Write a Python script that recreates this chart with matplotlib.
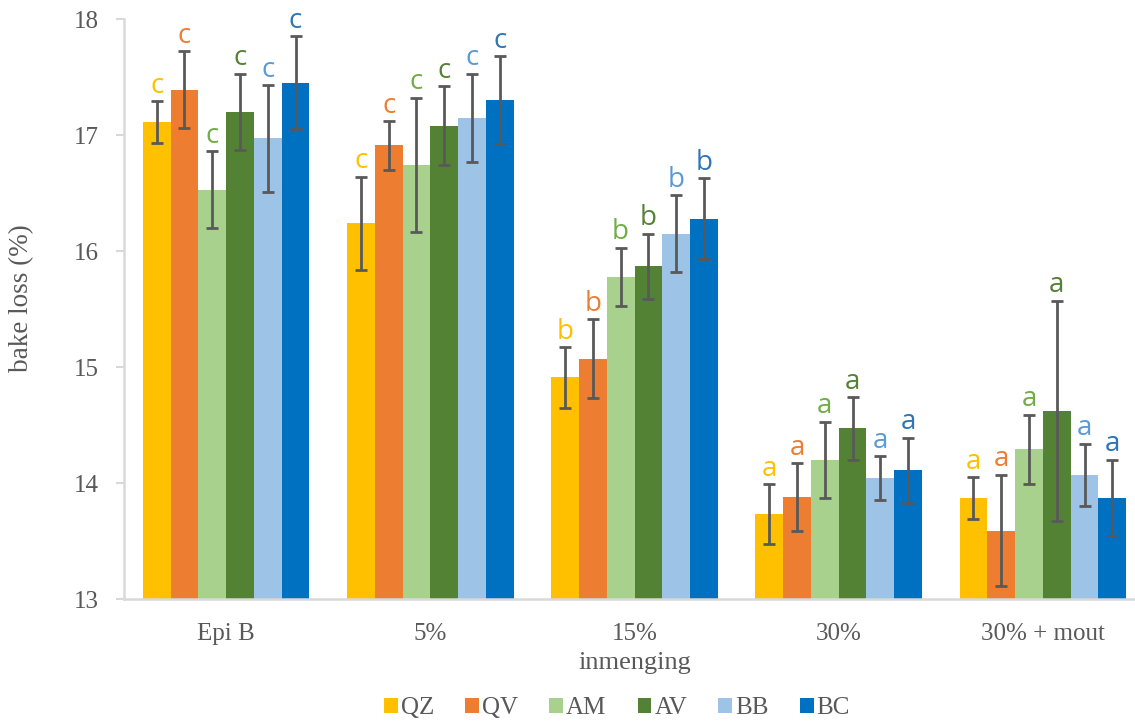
import numpy as np
import matplotlib
matplotlib.use("Agg")
import matplotlib.pyplot as plt

# Mixing levels on the x axis and the six flour series
categories = ["Epi B", "5%", "15%", "30%", "30% + mout"]
series = ["QZ", "QV", "AM", "AV", "BB", "BC"]

# Mean bake loss (%) per series, one value per mixing level
qz = [17.11, 16.24, 14.91, 13.73, 13.87]
qv = [17.39, 16.91, 15.07, 13.88, 13.59]
am = [16.53, 16.74, 15.78, 14.20, 14.29]
av = [17.20, 17.08, 15.87, 14.47, 14.62]
bb = [16.97, 17.15, 16.15, 14.04, 14.07]
bc = [17.45, 17.30, 16.28, 14.11, 13.87]

# Standard deviations
qz_sd = [0.18, 0.40, 0.26, 0.26, 0.18]
qv_sd = [0.33, 0.21, 0.34, 0.29, 0.48]
am_sd = [0.33, 0.58, 0.25, 0.33, 0.30]
av_sd = [0.33, 0.34, 0.28, 0.27, 0.95]
bb_sd = [0.46, 0.38, 0.33, 0.19, 0.27]
bc_sd = [0.40, 0.38, 0.35, 0.28, 0.33]

# Significance letters per mixing level
letters = ["c", "c", "b", "a", "a"]

means = [qz, qv, am, av, bb, bc]
sds = [qz_sd, qv_sd, am_sd, av_sd, bb_sd, bc_sd]

bar_colors = ["#FFC000", "#ED7D31", "#A9D18E", "#548235", "#9DC3E6", "#0070C0"]
letter_colors = ["#FFC000", "#ED7D31", "#70AD47", "#548235", "#5B9BD5", "#2E75B6"]
text_gray = "#595959"
axis_gray = "#D9D9D9"

fig = plt.figure(figsize=(11.35, 7.26), dpi=100)
ax = fig.add_axes([124 / 1135, 1 - 599 / 726, 1021 / 1135, 580 / 726])

x = np.arange(len(categories))
width = 0.136
offsets = (np.arange(len(series)) - (len(series) - 1) / 2) * width

for i, name in enumerate(series):
    pos = x + offsets[i]
    ax.bar(pos, np.array(means[i]) - 13, width=width, bottom=13,
           color=bar_colors[i], label=name, zorder=2, linewidth=0)
    ax.errorbar(pos, means[i], yerr=sds[i], fmt="none", ecolor=text_gray,
                elinewidth=2.0, capsize=4.6, capthick=2.0, zorder=3)
    for j in range(len(categories)):
        ax.annotate(letters[j], (pos[j], means[i][j] + sds[i][j]),
                    xytext=(0, 1.0), textcoords="offset points",
                    ha="center", va="bottom", fontsize=20,
                    family="Open Sans", color=letter_colors[i], zorder=4)

ax.set_xlim(-0.5, len(categories) - 0.5)
ax.set_ylim(13, 18)
ax.set_yticks([13, 14, 15, 16, 17, 18])
ax.set_xticks(x)
ax.set_xticklabels(categories)

serif = "Liberation Serif"
for lbl in ax.get_xticklabels() + ax.get_yticklabels():
    lbl.set_fontfamily(serif)
    lbl.set_fontsize(18)
    lbl.set_color(text_gray)

ax.tick_params(axis="x", length=0, pad=17)
ax.tick_params(axis="y", length=6, width=1.5, color=axis_gray, pad=12, direction="out")

for side in ["top", "right"]:
    ax.spines[side].set_visible(False)
for side in ["left", "bottom"]:
    ax.spines[side].set_color(axis_gray)
    ax.spines[side].set_linewidth(1.8)

ax.set_xlabel("inmenging", fontsize=19, family=serif, color=text_gray, labelpad=5)
fig.text(22 / 1135, 1 - 298 / 726, "bake loss (%)", rotation=90, fontsize=19.5,
         family=serif, color=text_gray, ha="center", va="center")

leg = fig.legend(loc="center", bbox_to_anchor=(617 / 1135, 1 - 708 / 726), ncol=6,
                 frameon=False, handlelength=0.55, handleheight=0.55,
                 handletextpad=0.12, columnspacing=1.25,
                 prop={"family": serif, "size": 18})
for t in leg.get_texts():
    t.set_color(text_gray)

fig.savefig("out.png", dpi=100)
